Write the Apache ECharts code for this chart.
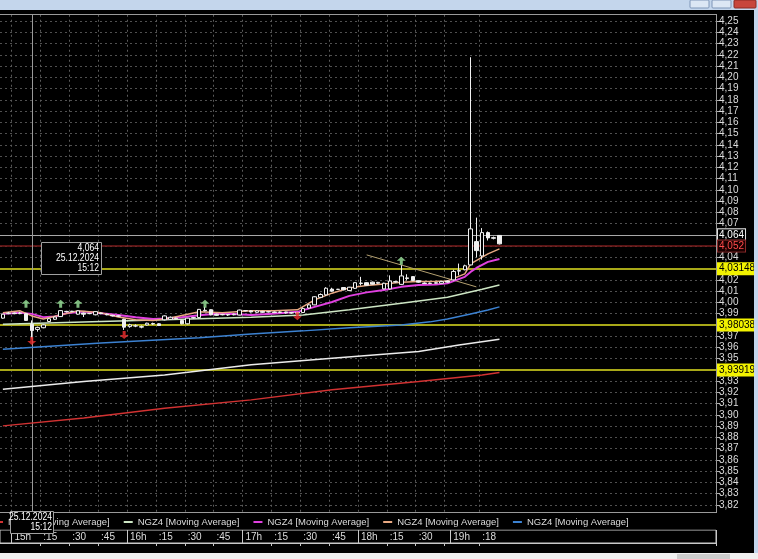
<!DOCTYPE html>
<html><head><meta charset="utf-8">
<script src="https://cdn.jsdelivr.net/npm/echarts@6/dist/echarts.min.js"></script>
<style>html,body{margin:0;padding:0;background:#000;overflow:hidden}#c{width:758px;height:559px}</style>
</head><body><div id="c"></div>
<script>
// ---- data ----
const times = ['14:54','14:57','15:00','15:03','15:06','15:09','15:12','15:15','15:18','15:21',
'15:24','15:27','15:30','15:33','15:36','15:39','15:42','15:45','15:48','15:51',
'15:54','15:57','16:00','16:03','16:06','16:09','16:12','16:15','16:18','16:21',
'16:24','16:27','16:30','16:33','16:36','16:39','16:42','16:45','16:48','16:51',
'16:54','16:57','17:00','17:03','17:06','17:09','17:12','17:15','17:18','17:21',
'17:24','17:27','17:30','17:33','17:36','17:39','17:42','17:45','17:48','17:51',
'17:54','17:57','18:00','18:03','18:06','18:09','18:12','18:15','18:18','18:21',
'18:24','18:27','18:30','18:33','18:36','18:39','18:42','18:45','19:00','19:03',
'19:06','19:09','19:12','19:18','19:21','19:24','19:27'];
const opens = [3.9860,3.9900,3.9905,3.9900,3.9900,3.9805,3.9760,3.9775,3.9830,3.9850,
3.9874,3.9920,3.9918,3.9895,3.9905,3.9900,3.9890,3.9905,3.9895,3.9885,
3.9880,3.9850,3.9785,3.9790,3.9780,3.9800,3.9812,3.9810,3.9845,3.9850,
3.9860,3.9840,3.9810,3.9860,3.9865,3.9930,3.9935,3.9895,3.9890,3.9892,
3.9890,3.9888,3.9925,3.9925,3.9912,3.9920,3.9915,3.9915,3.9910,3.9915,
3.9905,3.9910,3.9910,3.9950,3.9978,4.0045,4.0067,4.0118,4.0115,4.0132,
4.0105,4.0125,4.0168,4.0175,4.0180,4.0170,4.0120,4.0120,4.0180,4.0160,
4.0212,4.0229,4.0193,4.0172,4.0168,4.0170,4.0170,4.0190,4.0200,4.0282,
4.0290,4.0333,4.0540,4.0413,4.0620,4.0575,4.0595];
const closes = [3.9895,3.9905,3.9900,3.9905,3.9840,3.9750,3.9778,3.9800,3.9855,3.9870,
3.9927,3.9918,3.9922,3.9925,3.9895,3.9902,3.9918,3.9900,3.9890,3.9880,
3.9878,3.9780,3.9800,3.9792,3.9785,3.9815,3.9808,3.9795,3.9880,3.9868,
3.9855,3.9810,3.9860,3.9865,3.9938,3.9925,3.9890,3.9885,3.9893,3.9888,
3.9895,3.9932,3.9928,3.9915,3.9925,3.9912,3.9918,3.9910,3.9915,3.9908,
3.9910,3.9905,3.9945,3.9978,4.0050,4.0070,4.0126,4.0100,4.0117,4.0112,
4.0135,4.0175,4.0172,4.0153,4.0162,4.0178,4.0170,4.0190,4.0185,4.0235,
4.0218,4.0194,4.0180,4.0168,4.0172,4.0175,4.0185,4.0180,4.0275,4.0278,
4.0325,4.0653,4.0460,4.0620,4.0573,4.0570,4.0520];
const lows = [3.9855,3.9895,3.9895,3.9895,3.9835,3.9680,3.9740,3.9770,3.9825,3.9845,
3.9870,3.9910,3.9915,3.9890,3.9870,3.9895,3.9885,3.9895,3.9885,3.9875,
3.9870,3.9755,3.9775,3.9780,3.9770,3.9795,3.9800,3.9790,3.9840,3.9845,
3.9850,3.9805,3.9805,3.9855,3.9860,3.9920,3.9885,3.9880,3.9885,3.9880,
3.9885,3.9885,3.9920,3.9910,3.9908,3.9905,3.9910,3.9905,3.9905,3.9900,
3.9900,3.9898,3.9905,3.9945,3.9975,4.0040,4.0060,4.0095,4.0110,4.0108,
4.0100,4.0120,4.0150,4.0150,4.0158,4.0165,4.0115,4.0115,4.0175,4.0155,
4.0195,4.0190,4.0175,4.0165,4.0165,4.0166,4.0168,4.0175,4.0195,4.0240,
4.0285,4.0330,4.0400,4.0380,4.0550,4.0560,4.0515];
const highs = [3.9900,3.9915,3.9910,3.9915,3.9905,3.9840,3.9785,3.9805,3.9860,3.9875,
3.9930,3.9925,3.9925,3.9930,3.9910,3.9905,3.9920,3.9910,3.9900,3.9890,
3.9885,3.9855,3.9810,3.9805,3.9795,3.9820,3.9820,3.9815,3.9885,3.9875,
3.9865,3.9845,3.9862,3.9870,3.9940,3.9960,3.9938,3.9900,3.9898,3.9895,
3.9900,3.9935,3.9932,3.9930,3.9930,3.9925,3.9922,3.9920,3.9920,3.9918,
3.9915,3.9915,3.9955,3.9985,4.0055,4.0080,4.0135,4.0130,4.0120,4.0135,
4.0138,4.0178,4.0227,4.0180,4.0185,4.0182,4.0175,4.0240,4.0190,4.0330,
4.0250,4.0232,4.0196,4.0178,4.0176,4.0180,4.0190,4.0195,4.0290,4.0345,
4.0335,4.2178,4.0753,4.0660,4.0630,4.0585,4.0598];

// moving averages, read at sampled bars: [barIndex, value]
const maRed = [[0,3.8903],[14,3.8972],[28,3.9060],[43,3.9134],[57,3.9223],[72,3.9297],[83,3.9356],[86,3.9377]];
const maWhite = [[0,3.9229],[14,3.9297],[28,3.9356],[43,3.9445],[57,3.9504],[72,3.9563],[79,3.9622],[86,3.9673]];
const maBlue = [[0,3.9584],[17,3.9640],[34,3.9685],[43,3.9720],[52,3.9747],[60,3.9774],[69,3.9800],[74,3.9827],[77,3.9853],[81,3.9897],[84,3.9933],[86,3.9960]];
const maPale = [[0,3.9806],[17,3.9830],[28,3.9845],[43,3.9869],[52,3.9889],[60,3.9934],[69,3.9993],[77,4.0046],[83,4.0117],[86,4.0155]];
const maMagenta = [[0,3.9898],[3,3.9909],[5,3.9898],[7,3.9869],[9,3.9874],[11,3.9904],[14,3.9918],[17,3.9904],[20,3.9889],[23,3.9869],[26,3.9853],[28,3.9858],[31,3.9869],[34,3.9885],[37,3.9900],[40,3.9898],[43,3.9889],[46,3.9898],[49,3.9907],[51,3.9916],[54,3.9960],[57,4.0004],[60,4.0058],[63,4.0089],[66,4.0111],[69,4.0138],[72,4.0155],[75,4.0160],[77,4.0169],[80,4.0227],[81,4.0271],[82,4.0306],[84,4.0360],[86,4.0386]];
const maTan = [[0,3.9907],[3,3.9925],[5,3.9880],[7,3.9853],[10,3.9889],[13,3.9925],[17,3.9907],[20,3.9871],[23,3.9845],[26,3.9840],[29,3.9862],[34,3.9916],[38,3.9907],[43,3.9925],[47,3.9925],[51,3.9934],[54,4.0022],[57,4.0082],[60,4.0129],[63,4.0151],[66,4.0164],[69,4.0178],[72,4.0185],[75,4.0187],[77,4.0191],[80,4.0253],[81,4.0342],[84,4.0431],[86,4.0475]];

const upSignals = [[4,3.9987],[10,3.9987],[13,3.9987],[35,3.9987],[69,4.0370]];
const downSignals = [[5,3.9658],[21,3.9711],[51,3.9878]];

const levels = [4.064, 4.052, 4.031484, 3.980384, 3.939193];
const trend = [[63,4.0422],[82,4.0138]];
const crossIdx = 5;
const crossText = ['4,064','25.12.2024','15:12'];

const xTickIdx = [2,7,12,17,22,27,32,37,42,47,52,57,62,67,72,77,78,83];
const xTickLabels = ['15h',':15',':30',':45','16h',':15',':30',':45','17h',':15',':30',':45','18h',':15',':30','','19h',':18'];
const hourIdx = [2,22,42,62,78];
const gridIdx = [2,7,12,17,22,27,32,37,42,47,52,57,62,67,72,77,83];
const legendText = 'NGZ4 [Moving Average]';

// ---- build ----
const NCAT = 124;
const cats = times.slice();
for (let k = times.length; k < NCAT; k++) cats.push('pad' + k);
const candles = opens.map((o, i) => [o, closes[i], lows[i], highs[i]]);
const labelMap = {};
xTickIdx.forEach((ix, k) => labelMap[ix] = xTickLabels[k]);
const FONT = '"Liberation Sans",Arial,sans-serif';
const fmtNum = v => String(v).replace('.', ',');

const levelStyles = [
  {line:'#a8a8a8', w:1, bg:'#000', fg:'#ffffff', border:'#e0e0e0'},
  {line:'#7a1c1c', w:1.5, bg:'#1a0000', fg:'#ff4a4a', border:'#8a2a2a'},
  {line:'#a8a818', w:2, bg:'#f2f200', fg:'#000', border:'#f2f200'},
  {line:'#a8a818', w:2, bg:'#f2f200', fg:'#000', border:'#f2f200'},
  {line:'#a8a818', w:2, bg:'#f2f200', fg:'#000', border:'#f2f200'}
];
const markData = levels.map((v, k) => ({
  yAxis: v,
  lineStyle: {color: levelStyles[k].line, width: levelStyles[k].w, type: 'solid'},
  label: {show: true, position: 'end', distance: 2, formatter: fmtNum(v), color: levelStyles[k].fg,
    backgroundColor: levelStyles[k].bg, borderColor: levelStyles[k].border, borderWidth: 1,
    padding: [1, 1, 0, 1], fontSize: 10, fontFamily: FONT}
}));
markData.push({xAxis: times[crossIdx], lineStyle: {color: '#9a9a9a', width: 1, type: 'solid'}, label: {show: false}});
markData.push([
  {coord: [times[trend[0][0]], trend[0][1]], lineStyle: {color: '#b4a070', width: 1, type: 'solid'}, label: {show: false}},
  {coord: [times[trend[1][0]], trend[1][1]]}
]);

function maSeries(name, data, color, width) {
  return {name, type: 'line', data: data.map(d => [times[d[0]], d[1]]), showSymbol: false, symbol: 'none',
    lineStyle: {color, width}, itemStyle: {color}, z: 2, silent: true};
}
function boxText(txt, x, y) {
  return {type: 'text', x, y, scaleX: 0.82, z: 51,
    style: {text: txt, fill: '#fff', font: '10.5px ' + FONT, align: 'right', verticalAlign: 'top'}};
}

const option = {
  backgroundColor: '#000',
  animation: false,
  grid: [
    {left: 0, right: 42, top: 9.74, height: 506.52, containLabel: false, outerBoundsMode: 'none'},
    {left: 0, right: 42, top: 530, height: 13, containLabel: false, outerBoundsMode: 'none',
     show: true, borderColor: '#c8c8c8', borderWidth: 1, backgroundColor: '#000'}
  ],
  xAxis: [
    {type: 'category', data: cats, gridIndex: 0, boundaryGap: true,
     axisLine: {show: false}, axisTick: {show: false}, axisLabel: {show: false},
     splitLine: {show: true, interval: (i) => gridIdx.indexOf(i) >= 0,
       lineStyle: {color: '#5a5a5a', type: [2, 3], width: 1}}},
    {type: 'category', data: cats, gridIndex: 1, boundaryGap: true, position: 'top',
     axisLine: {show: true, lineStyle: {color: '#c8c8c8'}},
     axisTick: {show: true, inside: true, length: 3, interval: (i) => xTickIdx.indexOf(i) >= 0 && hourIdx.indexOf(i) < 0,
       lineStyle: {color: '#c8c8c8'}},
     splitLine: {show: true, interval: (i) => hourIdx.indexOf(i) >= 0, lineStyle: {color: '#c8c8c8', width: 1}},
     axisLabel: {show: true, inside: true, margin: 2, align: 'left', color: '#dcdcdc', fontSize: 10, fontFamily: FONT,
       interval: (i) => labelMap[i] !== undefined && labelMap[i] !== '',
       formatter: (v, i) => labelMap[i] || ''}}
  ],
  yAxis: [
    {type: 'value', gridIndex: 0, position: 'right', min: 3.81, max: 4.26, interval: 0.01, scale: true,
     axisLine: {show: true, lineStyle: {color: '#b0b0b0'}},
     axisTick: {show: true, length: 4, lineStyle: {color: '#b0b0b0'}},
     axisLabel: {show: true, margin: 3, color: '#dcdcdc', fontSize: 10, fontFamily: FONT,
       showMinLabel: false, showMaxLabel: false, formatter: v => v.toFixed(2).replace('.', ',')},
     splitLine: {show: true, lineStyle: {color: '#505050', type: [2, 3], width: 1}}},
    {type: 'value', gridIndex: 1, show: false}
  ],
  legend: {
    show: true, left: -6, top: 517, itemGap: 14, itemWidth: 9, itemHeight: 2, icon: 'rect', padding: 0,
    selectedMode: false, z: 10,
    data: ['MA1', 'MA2', 'MA3', 'MA4', 'MA5'],
    formatter: () => legendText,
    textStyle: {color: '#dcdcdc', fontSize: 9.5, fontFamily: FONT}
  },
  series: [
    maSeries('MA1', maRed, '#d23232', 1.5),
    maSeries('MA2', maPale, '#cde6c4', 1.5),
    maSeries('MA3', maMagenta, '#e040e0', 2),
    maSeries('MA4', maTan, '#e8a882', 1.5),
    maSeries('MA5', maBlue, '#3c82d2', 1.5),
    maSeries('MA6', maWhite, '#ececec', 1.5),
    {type: 'candlestick', name: 'NGZ4', data: candles, barWidth: 4, z: 3, silent: true,
     itemStyle: {color: '#000', color0: '#f0f0f0', borderColor: '#f0f0f0', borderColor0: '#f0f0f0', borderWidth: 1},
     markLine: {silent: true, symbol: ['none', 'none'], animation: false, z: 2, data: markData}},
    {type: 'scatter', name: 'up', data: upSignals.map(d => [times[d[0]], d[1]]), z: 4, silent: true,
     symbol: 'path://M4.5,0 L9,4.5 L6,4.5 L6,9 L3,9 L3,4.5 L0,4.5 Z', symbolSize: [9, 8],
     itemStyle: {color: '#9ee89e'}},
    {type: 'scatter', name: 'down', data: downSignals.map(d => [times[d[0]], d[1]]), z: 4, silent: true,
     symbol: 'path://M3,0 L6,0 L6,4.5 L9,4.5 L4.5,9 L0,4.5 L3,4.5 Z', symbolSize: [9, 8],
     itemStyle: {color: '#f03030'}}
  ],
  graphic: [
    // window chrome
    {type: 'rect', shape: {x: 0, y: 0, width: 758, height: 10}, style: {fill: '#c4d6ec'}, z: 100},
    {type: 'rect', shape: {x: 690, y: 0, width: 19, height: 8, r: 1}, style: {fill: '#dce7f4', stroke: '#7f96b8'}, z: 101},
    {type: 'rect', shape: {x: 712, y: 0, width: 19, height: 8, r: 1}, style: {fill: '#dce7f4', stroke: '#7f96b8'}, z: 101},
    {type: 'rect', shape: {x: 734, y: 0, width: 22, height: 8, r: 1}, style: {fill: '#c8463c', stroke: '#8a2a24'}, z: 101},
    {type: 'rect', shape: {x: 754, y: 0, width: 4, height: 553}, style: {fill: '#c4d6ec'}, z: 100},
    {type: 'rect', shape: {x: 0, y: 553, width: 758, height: 6}, style: {fill: '#f0f0f0'}, z: 100},
    {type: 'rect', shape: {x: 677, y: 554, width: 53, height: 5}, style: {fill: '#cdcdcd'}, z: 101},
    // black covers around the plot frame
    {type: 'rect', shape: {x: 0, y: 10, width: 754, height: 4}, style: {fill: '#000'}, z: 6},
    {type: 'rect', shape: {x: 0, y: 513, width: 754, height: 16.5}, style: {fill: '#000'}, z: 6},
    {type: 'line', shape: {x1: 0, y1: 14.5, x2: 716.5, y2: 14.5}, style: {stroke: '#9a9a9a', lineWidth: 1}, z: 7},
    {type: 'line', shape: {x1: 716.5, y1: 14.5, x2: 716.5, y2: 512.5}, style: {stroke: '#9a9a9a', lineWidth: 1}, z: 7},
    {type: 'line', shape: {x1: 0, y1: 512.5, x2: 716.5, y2: 512.5}, style: {stroke: '#9a9a9a', lineWidth: 1}, z: 7},
    // crosshair info box
    {type: 'rect', shape: {x: 41.5, y: 242.5, width: 60, height: 32}, style: {fill: '#000', stroke: '#a0a0a0'}, z: 50},
    boxText(crossText[0], 99, 243),
    boxText(crossText[1], 99, 253),
    boxText(crossText[2], 99, 263),
    // crosshair date box on time strip
    {type: 'rect', shape: {x: 10.5, y: 511.5, width: 43, height: 22}, style: {fill: '#000', stroke: '#a0a0a0'}, z: 50},
    boxText(crossText[1], 52, 512),
    boxText(crossText[2], 52, 522)
  ]
};
const chart = echarts.init(document.getElementById('c'), null, {renderer: 'canvas'});
chart.setOption(option);
</script></body></html>
